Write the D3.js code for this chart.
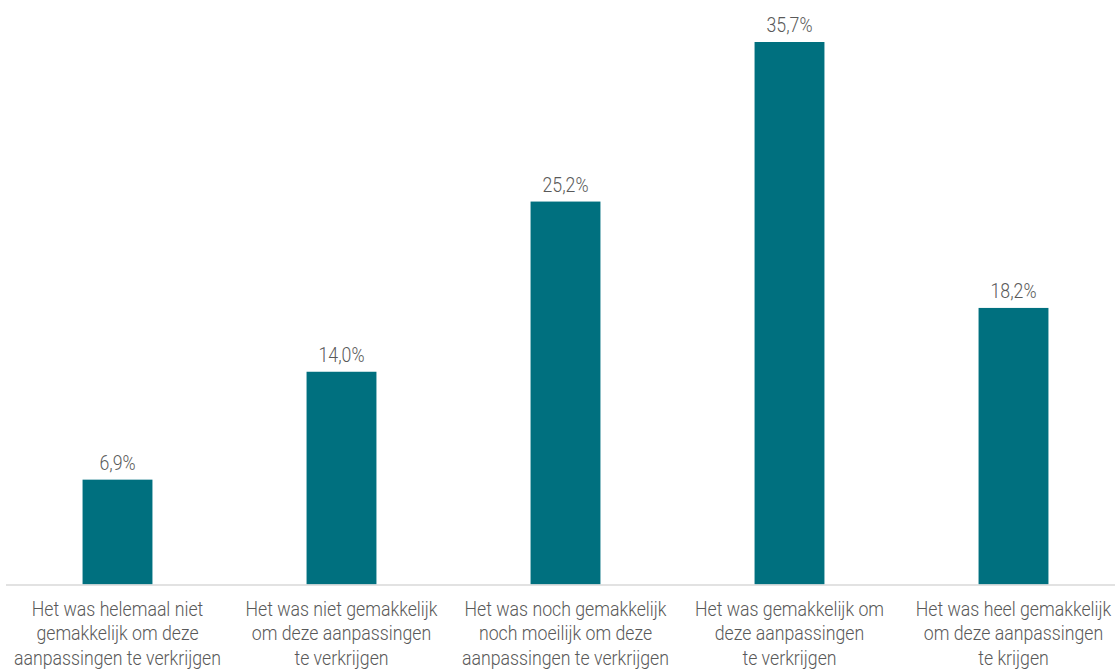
<!DOCTYPE html>
<html><head><meta charset="utf-8">
<script src="https://cdn.jsdelivr.net/npm/d3@7"></script>
<style>
html,body{margin:0;padding:0;background:#fff;}
text{font-family:"Roboto","Liberation Sans",sans-serif;font-weight:300;}
</style></head>
<body><svg id="c" width="1115" height="669"></svg>
<script>
const categories = [
  ["Het was helemaal niet","gemakkelijk om deze","aanpassingen te verkrijgen"],
  ["Het was niet gemakkelijk","om deze aanpassingen","te verkrijgen"],
  ["Het was noch gemakkelijk","noch moeilijk om deze","aanpassingen te verkrijgen"],
  ["Het was gemakkelijk om","deze aanpassingen","te verkrijgen"],
  ["Het was heel gemakkelijk","om deze aanpassingen","te krijgen"]
];
const values = [6.9, 14.0, 25.2, 35.7, 18.2];
const valueLabels = ["6,9%","14,0%","25,2%","35,7%","18,2%"];

const svg = d3.select("#c");
const x = d3.scaleBand().domain(d3.range(values.length)).range([5.5, 1125.5]).paddingInner(0.688).paddingOuter(0.344);
const y = d3.scaleLinear().domain([0, 35.7]).range([584.5, 42]);

svg.selectAll("rect.bar").data(values).join("rect")
  .attr("class","bar")
  .attr("x",(d,i)=>x(i)).attr("width",x.bandwidth())
  .attr("y",d=>y(d)).attr("height",d=>y(0)-y(d))
  .attr("fill","#00707F");

svg.append("line").attr("x1",6).attr("x2",1115).attr("y1",y(0)+0.5).attr("y2",y(0)+0.5)
  .attr("stroke","#d9d9d9").attr("stroke-width",1.5);

// measure condensing factor so that the widest line matches the reference width (~207px)
const probe = svg.append("text").attr("font-size",19.5).text("aanpassingen te verkrijgen");
const sx = 207 / probe.node().getComputedTextLength();
probe.remove();

svg.selectAll("text.val").data(values).join("text")
  .attr("class","val")
  .attr("transform",(d,i)=>`translate(${x(i)+x.bandwidth()/2},${y(d)-10}) scale(${sx},1)`)
  .attr("text-anchor","middle").attr("font-size",19.5).attr("fill","#595959")
  .text((d,i)=>valueLabels[i]);

const g = svg.selectAll("text.cat").data(categories).join("text")
  .attr("class","cat").attr("text-anchor","middle").attr("font-size",19.5).attr("fill","#595959")
  .attr("transform",(d,i)=>`translate(${x(i)+x.bandwidth()/2},0) scale(${sx},1)`);
g.each(function(lines,i){
  const t = d3.select(this);
  lines.forEach((l,j)=>{
    t.append("tspan").attr("x",0).attr("y",616+j*24.5).text(l);
  });
});
</script></body></html>
